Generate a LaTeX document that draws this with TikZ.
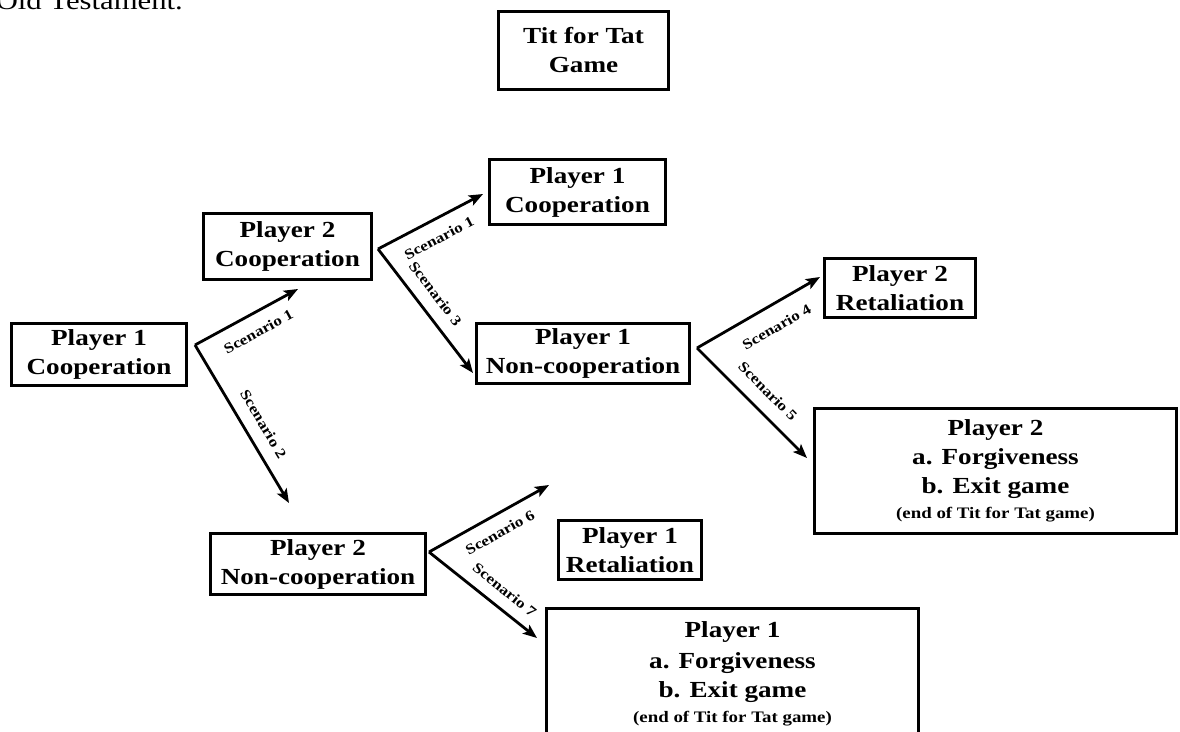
\documentclass[tikz,border=0pt]{standalone}
\usepackage{fontspec}
\setmainfont{Liberation Serif}[FakeStretch=1.18]
\usetikzlibrary{arrows.meta}
\newcommand{\gamenote}[1]{{\fontsize{16}{18}\selectfont #1}}
\begin{document}
\begin{tikzpicture}[x=1pt,y=-1pt,
  box/.style={draw, line width=3.5pt, align=center, inner sep=0pt,
    font=\bfseries\fontsize{23}{29}\selectfont},
  move/.style={line width=2.8pt, -{Stealth[length=14pt,width=11pt,inset=3pt]}},
  tag/.style={sloped, inner sep=0pt, font=\bfseries\fontsize{14.5}{15}\selectfont}]
\fill[white] (0,0) rectangle (1180,731);
\useasboundingbox (0,0) rectangle (1180,731);
\clip (0,0) rectangle (1180,731);

% running text of the page above the figure
\node[anchor=base east, inner sep=0pt, font=\fontsize{26}{30}\selectfont] (pagetext) at (183,9) {Old Testament.};

% boxes
\node[box, minimum width=170, minimum height=78] (title) at (583.5,50.5) {Tit for Tat\\Game};
\node[box, minimum width=175, minimum height=62] (p1c) at (99,354.5) {Player 1\\Cooperation};
\node[box, minimum width=168, minimum height=66] (p2c) at (287.5,246.5) {Player 2\\Cooperation};
\node[box, minimum width=176, minimum height=65] (p1ct) at (577.5,192) {Player 1\\Cooperation};
\node[box, minimum width=151, minimum height=59] (p2r) at (900,288) {Player 2\\Retaliation};
\node[box, minimum width=213, minimum height=60] (p1n) at (583,353.5) {Player 1\\Non-cooperation};
\node[box, minimum width=362, minimum height=125] (p2f) at (995.5,471)
  {Player 2\\a. Forgiveness\\b. Exit game\\[-4pt]\gamenote{(end of Tit for Tat game)}};
\node[box, minimum width=143, minimum height=59] (p1r) at (630,550) {Player 1\\Retaliation};
\node[box, minimum width=215, minimum height=61] (p2n) at (318,564) {Player 2\\Non-cooperation};
\node[box, minimum width=372, minimum height=131] (p1f) at (732.5,674)
  {Player 1\\[2pt]a. Forgiveness\\b. Exit game\\[-4pt]\gamenote{(end of Tit for Tat game)}};

% branching points and arrow ends
\coordinate (v1) at (195,345);
\coordinate (v2) at (378,249);
\coordinate (v3) at (697,348);
\coordinate (v4) at (429,552);
\coordinate (e1) at (298,289);
\coordinate (e2) at (289,503);
\coordinate (e3) at (483,194);
\coordinate (e4) at (473,373);
\coordinate (e5) at (820,277);
\coordinate (e6) at (807,458);
\coordinate (e7) at (549,485);
\coordinate (e8) at (537,638);

% moves
\draw[move] (v1) -- node[tag, pos=0.53, below=12pt] (l1) {Scenario 1} (e1);
\draw[move] (v1) -- node[tag, pos=0.56, above=12pt] (l2) {Scenario 2} (e2);
\draw[move] (v2) -- node[tag, pos=0.50, below=12pt] (l3) {Scenario 1} (e3);
\draw[move] (v2) -- node[tag, pos=0.45, above=12pt] (l4) {Scenario 3} (e4);
\draw[move] (v3) -- node[tag, pos=0.56, below=15pt] (l5) {Scenario 4} (e5);
\draw[move] (v3) -- node[tag, pos=0.52, above=13pt] (l6) {Scenario 5} (e6);
\draw[move] (v4) -- node[tag, pos=0.52, below=11pt] (l7) {Scenario 6} (e7);
\draw[move] (v4) -- node[tag, pos=0.60, above=11pt] (l8) {Scenario 7} (e8);
\end{tikzpicture}
\end{document}
